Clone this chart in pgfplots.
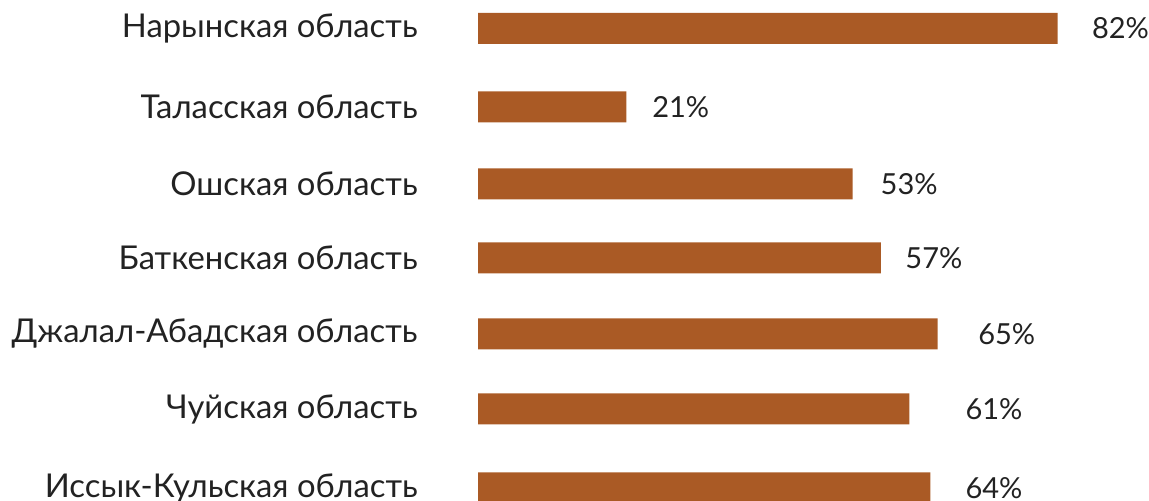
\documentclass[border=0pt]{standalone}
\usepackage{fontspec}
\setmainfont{Lato}
\usepackage{pgfplots}
\pgfplotsset{compat=1.18}
\definecolor{barbrown}{HTML}{AA5A25}
\definecolor{txt}{HTML}{222222}
\begin{document}
\begin{tikzpicture}
\begin{axis}[
	scale only axis,
	width=574.5pt, height=250.5pt,
	xmin=-67.61, xmax=94.91,
	ymin=-501, ymax=0,
	axis line style={draw=none},
	major tick style={draw=none},
	xtick=\empty,
	ytick={-28.5,-107,-184,-258,-334,-409,-488},
	yticklabels={Нарынская область, Таласская область, Ошская область,
		Баткенская область, Джалал-Абадская область, Чуйская область,
		Иссык-Кульская область},
	yticklabel shift=-209pt,
	yticklabel style={font=\fontsize{16.4}{18}\selectfont, text=txt, inner sep=0pt},
	clip=true,
]
% bars
\addplot[xbar, bar width=31, fill=barbrown, draw=none]
	coordinates {(82,-28.5) (21,-107) (53,-184) (57,-258)
		(65,-334) (61,-409) (64,-488)};
% value labels
\addplot[draw=none, mark=none, nodes near coords,
	point meta=explicit symbolic,
	nodes near coords align={horizontal},
	every node near coord/.append style={font=\fontsize{14.5}{16}\selectfont,
		text=txt, inner sep=0pt, anchor=west}]
	coordinates {(86.8,-28.5) [82\%] (24.6,-107) [21\%] (56.9,-184) [53\%]
		(60.4,-258) [57\%] (70.7,-334) [65\%] (68.9,-409) [61\%]
		(68.9,-488) [64\%]};
\end{axis}
\pgfresetboundingbox
\path (current axis.south west) rectangle (current axis.north east);
\end{tikzpicture}
\end{document}
